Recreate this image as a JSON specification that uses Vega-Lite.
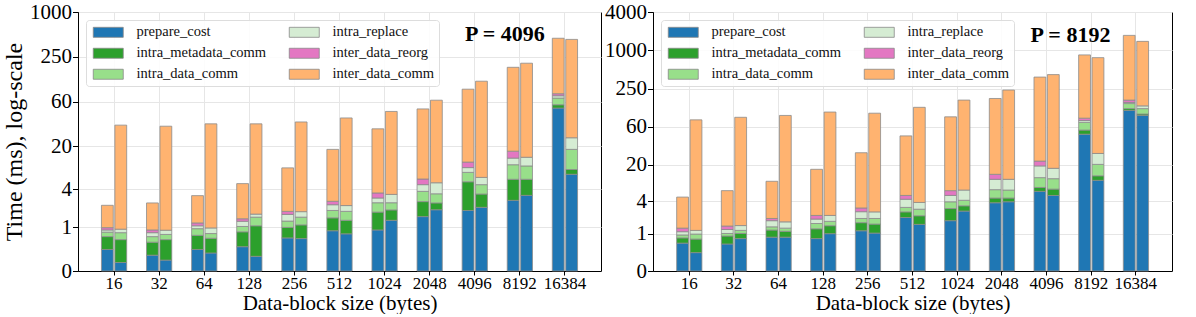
{
  "$schema": "https://vega.github.io/schema/vega-lite/v6.json",
  "padding": {"left": 2, "top": 0, "right": 5, "bottom": 0},
  "background": "white",
  "config": {
    "font": "Liberation Serif",
    "view": {"stroke": "#000000", "strokeWidth": 1},
    "axis": {"labelFont": "Liberation Serif", "titleFont": "Liberation Serif", "labelOverlap": false, "labelSeparation": 0, "labelFlush": false},
    "legend": {"labelFont": "Liberation Serif"},
    "style": {"guide-label": {"font": "Liberation Serif", "fill": "#000000"}, "guide-title": {"font": "Liberation Serif", "fill": "#000000"}}
  },
  "datasets": {
    "p4096": [
      {"size": "16", "bar": "a", "prepare_cost": 0.33, "intra_metadata_comm": 0.33, "intra_data_comm": 0.15, "intra_replace": 0.08, "inter_data_reorg": 0.09, "inter_data_comm": 1.32},
      {"size": "16", "bar": "b", "prepare_cost": 0.105, "intra_metadata_comm": 0.465, "intra_data_comm": 0.22, "intra_replace": 0.13, "inter_data_reorg": 0, "inter_data_comm": 30.08},
      {"size": "32", "bar": "a", "prepare_cost": 0.22, "intra_metadata_comm": 0.28, "intra_data_comm": 0.16, "intra_replace": 0.13, "inter_data_reorg": 0.10, "inter_data_comm": 1.61},
      {"size": "32", "bar": "b", "prepare_cost": 0.14, "intra_metadata_comm": 0.43, "intra_data_comm": 0.16, "intra_replace": 0.15, "inter_data_reorg": 0, "inter_data_comm": 29.1},
      {"size": "64", "bar": "a", "prepare_cost": 0.33, "intra_metadata_comm": 0.37, "intra_data_comm": 0.24, "intra_replace": 0.12, "inter_data_reorg": 0.13, "inter_data_comm": 2.03},
      {"size": "64", "bar": "b", "prepare_cost": 0.26, "intra_metadata_comm": 0.35, "intra_data_comm": 0.15, "intra_replace": 0.21, "inter_data_reorg": 0, "inter_data_comm": 31.3},
      {"size": "128", "bar": "a", "prepare_cost": 0.39, "intra_metadata_comm": 0.43, "intra_data_comm": 0.21, "intra_replace": 0.24, "inter_data_reorg": 0.13, "inter_data_comm": 3.42},
      {"size": "128", "bar": "b", "prepare_cost": 0.20, "intra_metadata_comm": 0.86, "intra_data_comm": 0.43, "intra_replace": 0.18, "inter_data_reorg": 0, "inter_data_comm": 30.6},
      {"size": "256", "bar": "a", "prepare_cost": 0.62, "intra_metadata_comm": 0.37, "intra_data_comm": 0.29, "intra_replace": 0.37, "inter_data_reorg": 0.20, "inter_data_comm": 6.2},
      {"size": "256", "bar": "b", "prepare_cost": 0.60, "intra_metadata_comm": 0.50, "intra_data_comm": 0.39, "intra_replace": 0.34, "inter_data_reorg": 0, "inter_data_comm": 32.4},
      {"size": "512", "bar": "a", "prepare_cost": 0.86, "intra_metadata_comm": 0.59, "intra_data_comm": 0.46, "intra_replace": 0.44, "inter_data_reorg": 0.30, "inter_data_comm": 11.85},
      {"size": "512", "bar": "b", "prepare_cost": 0.75, "intra_metadata_comm": 0.57, "intra_data_comm": 0.53, "intra_replace": 0.43, "inter_data_reorg": 0, "inter_data_comm": 36.5},
      {"size": "1024", "bar": "a", "prepare_cost": 0.89, "intra_metadata_comm": 0.91, "intra_data_comm": 0.72, "intra_replace": 0.45, "inter_data_reorg": 0.56, "inter_data_comm": 24.1},
      {"size": "1024", "bar": "b", "prepare_cost": 1.32, "intra_metadata_comm": 0.63, "intra_data_comm": 0.57, "intra_replace": 0.84, "inter_data_reorg": 0, "inter_data_comm": 44.1},
      {"size": "2048", "bar": "a", "prepare_cost": 1.52, "intra_metadata_comm": 1.10, "intra_data_comm": 1.10, "intra_replace": 0.94, "inter_data_reorg": 0.95, "inter_data_comm": 45.7},
      {"size": "2048", "bar": "b", "prepare_cost": 1.96, "intra_metadata_comm": 0.54, "intra_data_comm": 0.93, "intra_replace": 1.53, "inter_data_reorg": 0, "inter_data_comm": 62.3},
      {"size": "4096", "bar": "a", "prepare_cost": 1.91, "intra_metadata_comm": 3.21, "intra_data_comm": 1.84, "intra_replace": 1.16, "inter_data_reorg": 1.57, "inter_data_comm": 84.9},
      {"size": "4096", "bar": "b", "prepare_cost": 2.14, "intra_metadata_comm": 1.26, "intra_data_comm": 1.26, "intra_replace": 1.25, "inter_data_reorg": 0, "inter_data_comm": 115.1},
      {"size": "8192", "bar": "a", "prepare_cost": 2.74, "intra_metadata_comm": 2.82, "intra_data_comm": 3.35, "intra_replace": 2.09, "inter_data_reorg": 2.70, "inter_data_comm": 172.3},
      {"size": "8192", "bar": "b", "prepare_cost": 3.25, "intra_metadata_comm": 2.31, "intra_data_comm": 3.00, "intra_replace": 2.74, "inter_data_reorg": 0, "inter_data_comm": 199.7},
      {"size": "16384", "bar": "a", "prepare_cost": 52.7, "intra_metadata_comm": 5.7, "intra_data_comm": 13.4, "intra_replace": 5.4, "inter_data_reorg": 5.0, "inter_data_comm": 373.8},
      {"size": "16384", "bar": "b", "prepare_cost": 6.55, "intra_metadata_comm": 1.08, "intra_data_comm": 6.87, "intra_replace": 6.4, "inter_data_reorg": 0, "inter_data_comm": 419.1}
    ],
    "p8192": [
      {"size": "16", "bar": "a", "prepare_cost": 0.61, "intra_metadata_comm": 0.20, "intra_data_comm": 0.13, "intra_replace": 0.16, "inter_data_reorg": 0.20, "inter_data_comm": 3.42},
      {"size": "16", "bar": "b", "prepare_cost": 0.33, "intra_metadata_comm": 0.43, "intra_data_comm": 0.22, "intra_replace": 0.19, "inter_data_reorg": 0, "inter_data_comm": 81.3},
      {"size": "32", "bar": "a", "prepare_cost": 0.58, "intra_metadata_comm": 0.31, "intra_data_comm": 0.12, "intra_replace": 0.21, "inter_data_reorg": 0.21, "inter_data_comm": 4.62},
      {"size": "32", "bar": "b", "prepare_cost": 0.78, "intra_metadata_comm": 0.23, "intra_data_comm": 0.16, "intra_replace": 0.29, "inter_data_reorg": 0, "inter_data_comm": 89.1},
      {"size": "64", "bar": "a", "prepare_cost": 0.84, "intra_metadata_comm": 0.35, "intra_data_comm": 0.19, "intra_replace": 0.43, "inter_data_reorg": 0.18, "inter_data_comm": 6.64},
      {"size": "64", "bar": "b", "prepare_cost": 0.84, "intra_metadata_comm": 0.28, "intra_data_comm": 0.18, "intra_replace": 0.42, "inter_data_reorg": 0, "inter_data_comm": 95.1},
      {"size": "128", "bar": "a", "prepare_cost": 0.78, "intra_metadata_comm": 0.48, "intra_data_comm": 0.34, "intra_replace": 0.34, "inter_data_reorg": 0.32, "inter_data_comm": 11.24},
      {"size": "128", "bar": "b", "prepare_cost": 1.0, "intra_metadata_comm": 0.45, "intra_data_comm": 0.31, "intra_replace": 0.50, "inter_data_reorg": 0, "inter_data_comm": 107.3},
      {"size": "256", "bar": "a", "prepare_cost": 1.15, "intra_metadata_comm": 0.51, "intra_data_comm": 0.33, "intra_replace": 0.65, "inter_data_reorg": 0.43, "inter_data_comm": 21.8},
      {"size": "256", "bar": "b", "prepare_cost": 1.03, "intra_metadata_comm": 0.53, "intra_data_comm": 0.43, "intra_replace": 0.63, "inter_data_reorg": 0, "inter_data_comm": 102.4},
      {"size": "512", "bar": "a", "prepare_cost": 2.07, "intra_metadata_comm": 0.55, "intra_data_comm": 0.52, "intra_replace": 1.20, "inter_data_reorg": 0.69, "inter_data_comm": 41.0},
      {"size": "512", "bar": "b", "prepare_cost": 1.54, "intra_metadata_comm": 0.69, "intra_data_comm": 0.69, "intra_replace": 0.91, "inter_data_reorg": 0, "inter_data_comm": 126.2},
      {"size": "1024", "bar": "a", "prepare_cost": 1.81, "intra_metadata_comm": 1.19, "intra_data_comm": 0.93, "intra_replace": 1.10, "inter_data_reorg": 1.02, "inter_data_comm": 86.0},
      {"size": "1024", "bar": "b", "prepare_cost": 2.71, "intra_metadata_comm": 0.64, "intra_data_comm": 0.82, "intra_replace": 2.02, "inter_data_reorg": 0, "inter_data_comm": 162.8},
      {"size": "2048", "bar": "a", "prepare_cost": 3.78, "intra_metadata_comm": 0.77, "intra_data_comm": 1.73, "intra_replace": 3.01, "inter_data_reorg": 1.91, "inter_data_comm": 167.8},
      {"size": "2048", "bar": "b", "prepare_cost": 3.93, "intra_metadata_comm": 0.62, "intra_data_comm": 1.64, "intra_replace": 3.10, "inter_data_reorg": 0, "inter_data_comm": 233.7},
      {"size": "4096", "bar": "a", "prepare_cost": 5.89, "intra_metadata_comm": 0.94, "intra_data_comm": 3.07, "intra_replace": 5.4, "inter_data_reorg": 3.0, "inter_data_comm": 370.7},
      {"size": "4096", "bar": "b", "prepare_cost": 5.03, "intra_metadata_comm": 1.39, "intra_data_comm": 3.10, "intra_replace": 4.48, "inter_data_reorg": 0, "inter_data_comm": 411},
      {"size": "8192", "bar": "a", "prepare_cost": 49.0, "intra_metadata_comm": 7.9, "intra_data_comm": 18.5, "intra_replace": 5.1, "inter_data_reorg": 7.2, "inter_data_comm": 780},
      {"size": "8192", "bar": "b", "prepare_cost": 8.95, "intra_metadata_comm": 1.65, "intra_data_comm": 5.6, "intra_replace": 8.0, "inter_data_reorg": 0, "inter_data_comm": 762},
      {"size": "16384", "bar": "a", "prepare_cost": 116, "intra_metadata_comm": 8, "intra_data_comm": 25, "intra_replace": 6, "inter_data_reorg": 14, "inter_data_comm": 1589},
      {"size": "16384", "bar": "b", "prepare_cost": 96.9, "intra_metadata_comm": 5.1, "intra_data_comm": 22, "intra_replace": 13, "inter_data_reorg": 0, "inter_data_comm": 1279}
    ]
  },
  "spacing": 2,
  "resolve": {"scale": {"y": "independent", "x": "independent", "color": "independent"}, "legend": {"color": "independent"}},
  "hconcat": [
    {
      "width": 523, "height": 259,
      "layer": [
        {
          "data": {"name": "p4096"},
          "transform": [
            {"fold": ["prepare_cost", "intra_metadata_comm", "intra_data_comm", "intra_replace", "inter_data_reorg", "inter_data_comm"], "as": ["component", "ms"]},
            {"filter": "datum.ms > 0"},
            {"calculate": "indexof(['prepare_cost','intra_metadata_comm','intra_data_comm','intra_replace','inter_data_reorg','inter_data_comm'], datum.component)", "as": "stack_order"}
          ],
          "mark": {"type": "bar", "stroke": "#8c8c8c", "strokeWidth": 0.8},
          "encoding": {
            "x": {"field": "size", "type": "nominal", "sort": ["16","32","64","128","256","512","1024","2048","4096","8192","16384"],
                  "scale": {"paddingInner": 0.44, "paddingOuter": 0.52},
                  "axis": {"title": "Data-block size (bytes)", "titleFont": "Liberation Serif", "titleFontWeight": "normal", "titleColor": "#000000", "titleFontSize": 21, "titlePadding": 1,
                           "labelFont": "Liberation Serif", "labelColor": "#000000", "labelFontSize": 17, "labelAngle": 0, "labelPadding": 0, "labelOverlap": false,
                           "tickSize": 4, "tickColor": "#000000", "domainColor": "#000000", "grid": true, "gridColor": "#e6e6e6", "bandPosition": 0.5}},
            "xOffset": {"field": "bar", "type": "nominal", "scale": {"paddingInner": 0.12}},
            "y": {"field": "ms", "type": "quantitative", "stack": "zero",
                  "scale": {"type": "symlog", "constant": 0.35, "domain": [0, 1024], "nice": false},
                  "axis": {"title": "Time (ms), log-scale", "titleFont": "Liberation Serif", "titleFontWeight": "normal", "titleColor": "#000000", "titleFontSize": 24, "titlePadding": 3,
                           "labelFont": "Liberation Serif", "labelColor": "#000000", "labelFontSize": 21, "labelPadding": 1, "labelOverlap": false, "labelFlush": false, "labelSeparation": 0,
                           "tickSize": 5.5, "tickColor": "#000000", "domainColor": "#000000", "grid": true, "gridColor": "#e6e6e6",
                           "values": [0, 1, 4, 16, 64, 256, 1024], "tickCount": 12,
                           "labelExpr": "datum.value == 16 ? '20' : datum.value == 64 ? '60' : datum.value == 256 ? '250' : datum.value == 1024 ? '1000' : datum.label"}},
            "color": {"field": "component", "type": "nominal",
                      "scale": {"domain": ["prepare_cost", "intra_metadata_comm", "intra_data_comm", "intra_replace", "inter_data_reorg", "inter_data_comm"],
                                "range": ["#1f77b4", "#2ca02c", "#98df8a", "#d5ecd3", "#e377c2", "#ffb370"]},
                      "legend": {"orient": "top-left", "offset": 8, "columns": 2, "title": null,
                                 "fillColor": "rgba(255,255,255,0.85)", "strokeColor": "#dddddd", "cornerRadius": 3,
                                 "padding": 5, "rowPadding": 6, "columnPadding": 20,
                                 "labelFont": "Liberation Serif", "labelFontSize": 14.5, "labelColor": "#111111", "labelOffset": 31,
                                 "symbolType": "M-1,-1H5V1H-1Z", "symbolSize": 100,
                                 "symbolStrokeColor": "#888888", "symbolStrokeWidth": 0.8, "symbolOpacity": 1}},
            "order": {"field": "stack_order", "type": "quantitative"}
          }
        },
        {
          "data": {"values": [{"label": "P = 4096"}]},
          "mark": {"type": "text", "font": "Liberation Serif", "fontSize": 22, "fontWeight": "bold", "dx": -15, "baseline": "middle", "color": "#000000"},
          "encoding": {"x": {"datum": "8192"}, "y": {"datum": 527}, "text": {"field": "label"}}
        }
      ]
    },
    {
      "width": 519, "height": 259,
      "layer": [
        {
          "data": {"name": "p8192"},
          "transform": [
            {"fold": ["prepare_cost", "intra_metadata_comm", "intra_data_comm", "intra_replace", "inter_data_reorg", "inter_data_comm"], "as": ["component", "ms"]},
            {"filter": "datum.ms > 0"},
            {"calculate": "indexof(['prepare_cost','intra_metadata_comm','intra_data_comm','intra_replace','inter_data_reorg','inter_data_comm'], datum.component)", "as": "stack_order"}
          ],
          "mark": {"type": "bar", "stroke": "#8c8c8c", "strokeWidth": 0.8},
          "encoding": {
            "x": {"field": "size", "type": "nominal", "sort": ["16","32","64","128","256","512","1024","2048","4096","8192","16384"],
                  "scale": {"paddingInner": 0.44, "paddingOuter": 0.53},
                  "axis": {"title": "Data-block size (bytes)", "titleFont": "Liberation Serif", "titleFontWeight": "normal", "titleColor": "#000000", "titleFontSize": 21, "titlePadding": 1,
                           "labelFont": "Liberation Serif", "labelColor": "#000000", "labelFontSize": 17, "labelAngle": 0, "labelPadding": 0, "labelOverlap": false,
                           "tickSize": 4, "tickColor": "#000000", "domainColor": "#000000", "grid": true, "gridColor": "#e6e6e6", "bandPosition": 0.5}},
            "xOffset": {"field": "bar", "type": "nominal", "scale": {"paddingInner": 0.12}},
            "y": {"field": "ms", "type": "quantitative", "stack": "zero",
                  "scale": {"type": "symlog", "constant": 0.35, "domain": [0, 4096], "nice": false},
                  "axis": {"title": null,
                           "labelFont": "Liberation Serif", "labelColor": "#000000", "labelFontSize": 21, "labelPadding": 1, "labelOverlap": false, "labelFlush": false, "labelSeparation": 0,
                           "tickSize": 5.5, "tickColor": "#000000", "domainColor": "#000000", "grid": true, "gridColor": "#e6e6e6",
                           "values": [0, 1, 4, 16, 64, 256, 1024, 4096], "tickCount": 12,
                           "labelExpr": "datum.value == 16 ? '20' : datum.value == 64 ? '60' : datum.value == 256 ? '250' : datum.value == 1024 ? '1000' : datum.value == 4096 ? '4000' : datum.label"}},
            "color": {"field": "component", "type": "nominal",
                      "scale": {"domain": ["prepare_cost", "intra_metadata_comm", "intra_data_comm", "intra_replace", "inter_data_reorg", "inter_data_comm"],
                                "range": ["#1f77b4", "#2ca02c", "#98df8a", "#d5ecd3", "#e377c2", "#ffb370"]},
                      "legend": {"orient": "top-left", "offset": 8, "columns": 2, "title": null,
                                 "fillColor": "rgba(255,255,255,0.85)", "strokeColor": "#dddddd", "cornerRadius": 3,
                                 "padding": 5, "rowPadding": 6, "columnPadding": 20,
                                 "labelFont": "Liberation Serif", "labelFontSize": 14.5, "labelColor": "#111111", "labelOffset": 31,
                                 "symbolType": "M-1,-1H5V1H-1Z", "symbolSize": 100,
                                 "symbolStrokeColor": "#888888", "symbolStrokeWidth": 0.8, "symbolOpacity": 1}},
            "order": {"field": "stack_order", "type": "quantitative"}
          }
        },
        {
          "data": {"values": [{"label": "P = 8192"}]},
          "mark": {"type": "text", "font": "Liberation Serif", "fontSize": 22, "fontWeight": "bold", "dx": 24, "baseline": "middle", "color": "#000000"},
          "encoding": {"x": {"datum": "4096"}, "y": {"datum": 1767}, "text": {"field": "label"}}
        }
      ]
    }
  ]
}
